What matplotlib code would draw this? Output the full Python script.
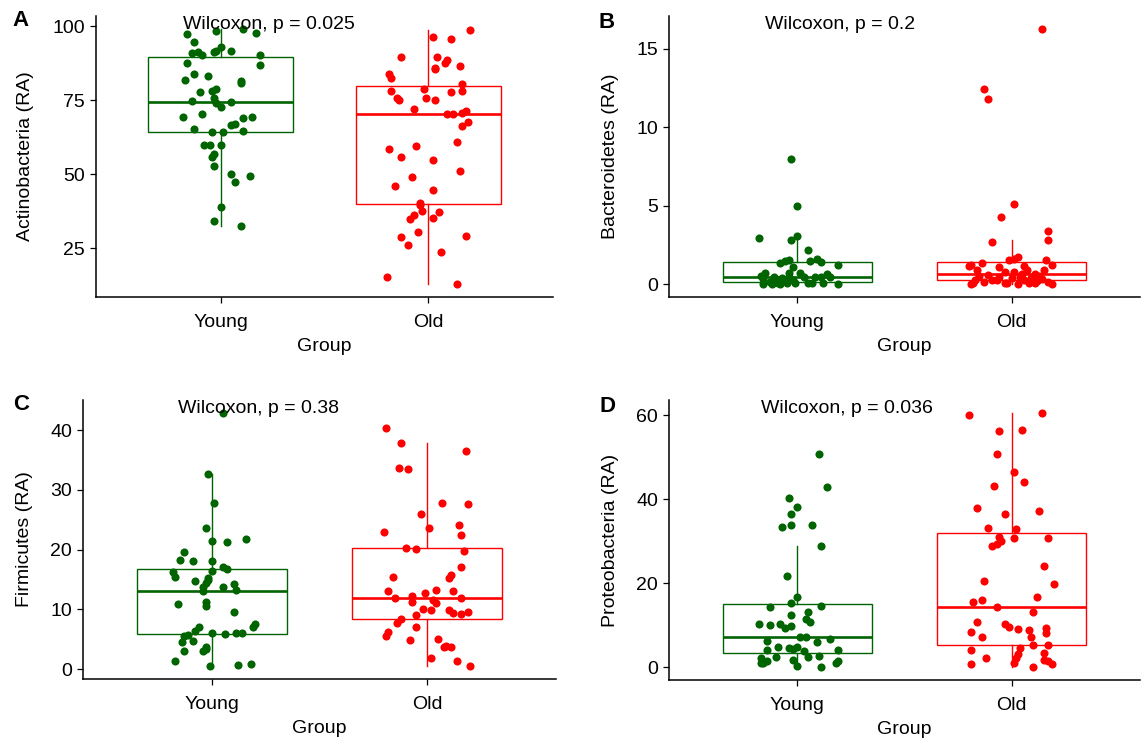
import numpy as np
import matplotlib
matplotlib.use('Agg')
import matplotlib.pyplot as plt

# relative abundance per sample
groups = ['Young', 'Old']

actino_young = [97.2, 98.3, 99.1, 97.6, 94.8, 91.7, 92.8, 91.5, 91.4, 90.9,
                91.1, 90.1, 90.3, 87.6, 87.0, 83.8, 83.3, 81.9, 81.5, 80.9,
                77.6, 78.1, 78.8, 74.8, 75.6, 74.1, 72.7, 74.2, 69.4, 70.3,
                69.0, 69.4, 66.5, 66.9, 65.2, 64.2, 64.2, 64.7, 60.0, 59.7,
                60.0, 56.8, 55.9, 52.7, 50.0, 47.5, 49.4, 39.0, 34.2, 32.6]
actino_old = [98.6, 96.3, 95.8, 89.5, 89.5, 88.5, 87.4, 86.0, 85.6, 86.6,
              83.8, 82.4, 80.6, 78.1, 78.8, 77.6, 78.1, 75.8, 75.0, 75.8,
              74.9, 71.9, 70.3, 70.2, 71.3, 70.8, 67.6, 66.1, 60.9, 58.5,
              59.5, 55.7, 54.7, 50.9, 49.0, 46.1, 44.7, 39.4, 40.2, 37.6,
              37.2, 36.1, 34.7, 35.2, 30.5, 28.6, 29.0, 26.1, 23.8, 15.1, 12.8]

bactero_young = [8.0, 5.0, 2.95, 2.8, 3.06, 2.16, 1.35, 1.52, 1.6, 1.39,
                 1.24, 1.07, 0.71, 0.54, 0.45, 0.71, 0.71, 0.39, 0.45, 0.49,
                 0.64, 0.17, 0.11, 0.24, 0.11, 0.0, 0.0, 0.06, 0.06, 0.0,
                 0.49, 0.32, 0.32, 0.49, 0.49, 0.02, 0.05, 0.1, 1.45, 1.5]
bactero_old = [16.27, 12.42, 11.78, 5.12, 4.3, 3.4, 2.8, 2.7, 1.71, 1.56,
               1.63, 1.52, 1.18, 1.2, 1.35, 1.09, 1.13, 1.24, 0.92, 0.92,
               0.75, 0.81, 0.92, 0.66, 0.6, 0.49, 0.45, 0.39, 0.28, 0.17,
               0.06, 0.02, 0.11, 0.17, 0.0, 0.0, 0.28, 0.24, 0.32, 0.11,
               0.05, 0.1, 0.2, 0.3, 0.4, 0.5, 0.55, 0.65]

firmi_young = [42.9, 32.7, 27.8, 23.6, 21.5, 21.3, 21.75, 19.5, 18.2, 18.0,
               18.0, 17.1, 16.7, 16.4, 16.3, 15.45, 15.2, 14.9, 14.7, 14.3,
               14.4, 13.7, 13.7, 13.1, 13.2, 10.8, 11.15, 10.5, 9.6, 7.5,
               7.1, 7.0, 6.4, 6.0, 5.8, 6.0, 6.0, 5.5, 5.7, 4.6,
               4.7, 3.7, 3.3, 3.0, 3.0, 1.3, 0.45, 0.67, 0.9]
firmi_old = [40.4, 37.9, 36.5, 33.6, 33.5, 27.8, 27.6, 25.9, 23.6, 24.1,
             22.4, 22.9, 20.3, 20.1, 19.8, 17.1, 15.8, 15.2, 15.4, 13.3,
             13.1, 13.1, 12.3, 12.8, 11.9, 11.9, 11.2, 11.5, 11.0, 10.0,
             9.8, 9.8, 9.4, 9.2, 9.5, 9.1, 8.4, 7.7, 7.0, 6.2,
             5.5, 4.9, 5.1, 3.9, 3.6, 3.6, 1.8, 1.3, 0.45]

proteo_young = [50.8, 42.9, 40.2, 38.2, 36.5, 33.5, 33.8, 33.8, 28.8, 21.75,
                15.2, 16.7, 14.7, 14.4, 13.1, 12.4, 11.55, 10.75, 10.4, 10.0,
                10.4, 9.4, 9.8, 6.2, 7.2, 7.2, 6.8, 6.1, 4.0, 4.0,
                4.8, 4.6, 4.9, 4.4, 2.4, 2.2, 2.5, 2.8, 1.8, 1.0,
                1.4, 1.0, 0.4, 0.0, 1.0, 1.6, 3.8]
proteo_old = [60.0, 60.6, 56.25, 56.6, 50.8, 46.5, 44.2, 43.2, 37.85, 36.5,
              37.2, 33.1, 32.9, 30.9, 30.0, 28.8, 29.3, 30.8, 30.8, 24.1,
              20.5, 19.8, 16.7, 15.5, 15.9, 14.4, 13.1, 10.8, 10.4, 9.6,
              9.2, 8.8, 9.4, 8.2, 8.4, 7.2, 7.2, 5.4, 5.4, 4.6,
              3.2, 4.0, 3.4, 1.8, 2.2, 1.0, 2.1, 1.4, 0.8, 0.8, 0.0]

# horizontal jitter of each point (category units), as seen in the figure
actino_young_dx = [-0.16, -0.02, 0.11, 0.17, -0.13, -0.02, 0.00, 0.05, -0.03, -0.14,
                   -0.11, -0.09, 0.19, -0.16, 0.19, -0.13, -0.06, -0.17, 0.10, 0.10,
                   -0.10, -0.04, -0.02, -0.14, -0.03, -0.02, 0.00, 0.05, -0.18, -0.09,
                   0.11, 0.15, 0.05, 0.07, -0.13, -0.04, 0.01, 0.11, -0.08, -0.05,
                   0.00, -0.03, -0.04, -0.03, 0.05, 0.07, 0.14, 0.00, -0.03, 0.10]
actino_old_dx = [0.20, 0.02, 0.11, -0.13, 0.04, 0.09, 0.08, 0.03, 0.03, 0.15,
                 -0.19, -0.18, 0.16, -0.18, -0.02, 0.11, 0.16, -0.15, -0.14, -0.01,
                 0.03, -0.07, 0.09, 0.12, 0.18, 0.16, 0.19, 0.16, 0.14, -0.19,
                 -0.06, -0.13, 0.02, 0.15, -0.08, -0.16, 0.02, -0.04, -0.04, -0.03,
                 0.05, -0.07, -0.09, 0.02, -0.05, -0.13, 0.18, -0.10, 0.06, -0.20, 0.14]
bactero_young_dx = [-0.03, 0.00, -0.18, -0.03, 0.00, 0.05, -0.08, -0.04, 0.09, 0.11,
                    0.19, -0.02, -0.15, -0.17, -0.11, -0.04, 0.01, -0.07, 0.03, 0.08,
                    0.14, -0.13, -0.09, -0.02, 0.12, -0.16, -0.08, -0.01, 0.05, 0.19,
                    -0.04, -0.10, -0.16, 0.15, 0.11, -0.12, 0.07, -0.05, 0.06, -0.06]
bactero_old_dx = [0.14, -0.13, -0.11, 0.01, -0.05, 0.17, 0.17, -0.09, 0.03, -0.01,
                  0.01, 0.16, -0.20, -0.19, -0.14, -0.06, 0.06, 0.19, 0.15, -0.16,
                  -0.03, 0.01, 0.07, 0.11, -0.11, -0.06, 0.04, 0.09, -0.17, -0.13,
                  -0.03, 0.03, 0.11, 0.17, -0.19, 0.19, -0.07, 0.06, 0.14, -0.18,
                  -0.02, 0.08, 0.12, -0.09, 0.00, 0.13, -0.15, 0.05]
firmi_young_dx = [0.05, -0.02, 0.01, -0.03, 0.00, 0.07, 0.16, -0.13, -0.15, -0.09,
                  0.00, 0.05, 0.07, 0.00, -0.18, -0.17, -0.02, -0.02, -0.08, 0.10,
                  -0.03, -0.04, 0.05, -0.04, 0.11, -0.16, -0.03, -0.03, 0.10, 0.20,
                  0.19, -0.06, -0.08, 0.00, 0.06, 0.11, 0.14, -0.13, -0.11, -0.14,
                  -0.09, -0.03, -0.03, -0.04, -0.13, -0.17, -0.01, 0.12, 0.18]
firmi_old_dx = [-0.19, -0.12, 0.18, -0.13, -0.09, 0.07, 0.19, -0.03, 0.01, 0.15,
                0.16, -0.20, -0.10, -0.05, 0.17, 0.16, 0.11, 0.10, -0.16, 0.04,
                0.12, -0.18, -0.07, -0.01, -0.15, 0.16, -0.07, 0.03, 0.04, -0.02,
                0.02, 0.10, 0.12, 0.16, 0.19, -0.05, -0.12, -0.14, -0.05, -0.18,
                -0.19, -0.08, 0.05, 0.09, 0.08, 0.11, 0.02, 0.14, 0.20]
proteo_young_dx = [0.10, 0.14, -0.04, 0.00, -0.03, -0.07, -0.03, 0.07, 0.11, -0.05,
                   -0.03, 0.00, 0.11, -0.13, 0.05, -0.03, 0.04, 0.06, -0.18, -0.13,
                   -0.08, -0.06, -0.03, -0.14, 0.01, 0.04, 0.15, 0.09, 0.19, -0.14,
                   -0.09, -0.04, 0.00, -0.02, -0.10, -0.17, 0.05, 0.10, -0.02, -0.16,
                   -0.14, -0.17, 0.00, 0.11, 0.18, 0.19, 0.03]
proteo_old_dx = [-0.20, 0.14, -0.06, 0.05, -0.07, 0.01, 0.06, -0.08, -0.16, -0.03,
                 0.13, -0.11, 0.02, -0.06, -0.05, -0.09, -0.07, 0.01, 0.17, 0.15,
                 -0.13, 0.20, 0.12, -0.18, -0.14, -0.07, 0.10, -0.16, -0.03, -0.01,
                 0.03, 0.08, 0.16, 0.16, -0.19, -0.14, 0.09, 0.10, 0.17, 0.04,
                 0.03, -0.19, 0.15, 0.15, 0.02, 0.01, -0.12, 0.17, 0.19, -0.19, 0.10]

panel_letters = ['A', 'B', 'C', 'D']
y_titles = ['Actinobacteria (RA)', 'Bacteroidetes (RA)', 'Firmicutes (RA)', 'Proteobacteria (RA)']
p_labels = ['Wilcoxon, p = 0.025', 'Wilcoxon, p = 0.2', 'Wilcoxon, p = 0.38', 'Wilcoxon, p = 0.036']
y_ticks = [[25, 50, 75, 100], [0, 5, 10, 15], [0, 10, 20, 30, 40], [0, 20, 40, 60]]

panels = [
    (actino_young, actino_old, actino_young_dx, actino_old_dx),
    (bactero_young, bactero_old, bactero_young_dx, bactero_old_dx),
    (firmi_young, firmi_old, firmi_young_dx, firmi_old_dx),
    (proteo_young, proteo_old, proteo_young_dx, proteo_old_dx),
]

colors = ['#006400', '#FF0000']

plt.rcParams['font.family'] = ['Liberation Sans', 'DejaVu Sans']

fig = plt.figure(figsize=(11.47, 7.45), dpi=100)
W, H = 1147.0, 745.0

# axes boxes in pixels: left, top, right, bottom
boxes = [(96, 16, 553, 297), (669, 16, 1140, 297), (83, 400, 556, 679), (669, 400, 1140, 680)]
ylabel_x = [-0.135, -0.106, -0.106, -0.106]
p_x = [-0.18, -0.15, -0.16, -0.17]
letter_pos = [(12, 10), (598, 12), (13, 394), (599, 396)]

for i in range(4):
    l, t, r, b = boxes[i]
    ax = fig.add_axes([l / W, 1 - b / H, (r - l) / W, (b - t) / H])
    young, old, dyoung, dold = panels[i]

    bp = ax.boxplot([young, old], positions=[0, 1], widths=0.7, showfliers=False,
                    showcaps=False, patch_artist=True, whis=1.5)
    for k in range(2):
        bp['boxes'][k].set_facecolor('white')
        bp['boxes'][k].set_edgecolor(colors[k])
        bp['boxes'][k].set_linewidth(1.0)
        bp['medians'][k].set_color(colors[k])
        bp['medians'][k].set_linewidth(1.9)
        for w in bp['whiskers'][2 * k:2 * k + 2]:
            w.set_color(colors[k])
            w.set_linewidth(1.0)

    ax.scatter(np.array(dyoung), young, s=34, color=colors[0], linewidths=0, zorder=3)
    ax.scatter(1 + np.array(dold), old, s=34, color=colors[1], linewidths=0, zorder=3)

    # ggplot style limits: 5% expansion of the data range, 0.6 on discrete axis
    allv = young + old
    lo, hi = min(allv), max(allv)
    pad = 0.05 * (hi - lo)
    ax.set_ylim(lo - pad, hi + pad)
    ax.set_xlim(-0.6, 1.6)

    ax.set_xticks([0, 1])
    ax.set_xticklabels(groups)
    ax.set_yticks(y_ticks[i])
    ax.tick_params(labelsize=14, length=4.5, width=0.9, color='black', labelcolor='black')
    ax.tick_params(axis='x', pad=8)
    ax.set_xlabel('Group', fontsize=14, labelpad=5)
    ax.set_ylabel(y_titles[i], fontsize=14)
    ax.yaxis.set_label_coords(ylabel_x[i], 0.5)

    for s in ['top', 'right']:
        ax.spines[s].set_visible(False)
    for s in ['left', 'bottom']:
        ax.spines[s].set_linewidth(1.1)
        ax.spines[s].set_color('black')

    ax.text(p_x[i], 1.0, p_labels[i], transform=ax.get_xaxis_transform(),
            ha='left', va='top', fontsize=14, color='black', zorder=5)

    fig.text(letter_pos[i][0] / W, 1 - letter_pos[i][1] / H, panel_letters[i],
             fontsize=16, fontweight='bold', ha='left', va='top')

fig.savefig('out.png', dpi=100)
